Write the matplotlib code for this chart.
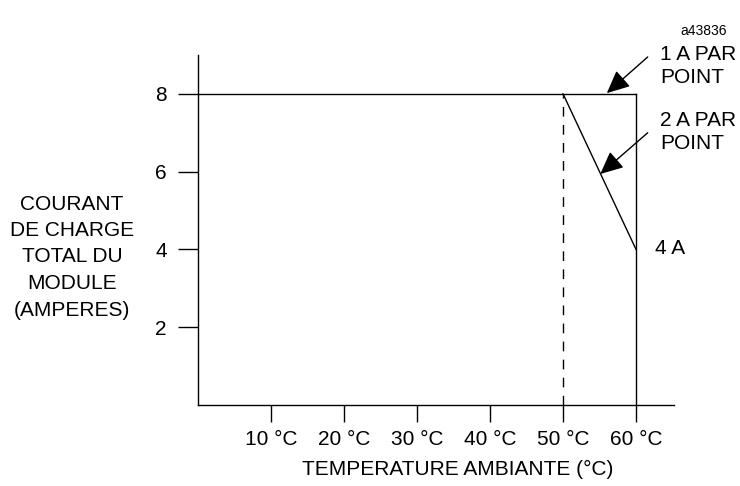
import matplotlib
matplotlib.use("Agg")
import matplotlib.pyplot as plt

plt.rcParams['font.family'] = ['Liberation Sans', 'DejaVu Sans']

# Data
temp_ticks = [10, 20, 30, 40, 50, 60]
temp_labels = ["10 °C", "20 °C", "30 °C", "40 °C", "50 °C", "60 °C"]
current_ticks = [2, 4, 6, 8]
one_amp_x = [0, 60]
one_amp_y = [8, 8]
two_amp_x = [50, 60]
two_amp_y = [8, 4]
limit_x = [60, 60]
limit_y = [0, 8]
threshold_x = [50, 50]
threshold_y = [0, 8]

W, H = 740, 486
FS = 15
fig = plt.figure(figsize=(W / 100, H / 100), dpi=100)
ax = fig.add_axes([198 / W, (H - 405) / H, (674 - 198) / W, 350 / H])
ax.set_xlim(0, 65.2)
ax.set_ylim(0, 9)

lw = 1.0
ax.plot(one_amp_x, one_amp_y, color='black', lw=lw)
ax.plot(two_amp_x, two_amp_y, color='black', lw=lw)
ax.plot(limit_x, limit_y, color='black', lw=lw)
ax.plot(threshold_x, threshold_y, color='black', lw=lw, dashes=(7, 6))

for s in ['top', 'right']:
    ax.spines[s].set_visible(False)
for s in ['left', 'bottom']:
    ax.spines[s].set_linewidth(lw)

ax.set_yticks(current_ticks)
ax.set_yticklabels([str(v) for v in current_ticks])
ax.set_xticks(temp_ticks)
ax.set_xticklabels(temp_labels)
ax.tick_params(axis='y', direction='out', length=14.4, width=lw, pad=8, labelsize=FS)
ax.tick_params(axis='x', direction='out', length=12.2, width=lw, pad=6, labelsize=FS)

ax.set_xlabel("TEMPERATURE AMBIANTE (°C)", fontsize=FS)
ax.xaxis.set_label_coords((458 - 198) / 476, (405 - 460) / 350)
fig.text(72 / W, 1 - 257 / H, "COURANT\nDE CHARGE\nTOTAL DU\nMODULE\n(AMPERES)",
         ha='center', va='center', fontsize=FS, linespacing=1.5)

# Annotations
arrow1_tip = (56.0, 8.02)
arrow1_tail = (61.6, 8.95)
arrow2_tip = (55.1, 5.94)
arrow2_tail = (61.6, 7.0)
astyle = '-|>,head_length=1.4,head_width=0.65'
for tip, tail in [(arrow1_tip, arrow1_tail), (arrow2_tip, arrow2_tail)]:
    ax.annotate("", xy=tip, xytext=tail, annotation_clip=False,
                arrowprops=dict(arrowstyle=astyle, color='black', lw=1,
                                shrinkA=0, shrinkB=0, mutation_scale=10))
fig.text(660 / W, 1 - 66 / H, "1 A PAR\nPOINT", ha='left', va='center', fontsize=FS, linespacing=1.3)
fig.text(660 / W, 1 - 132 / H, "2 A PAR\nPOINT", ha='left', va='center', fontsize=FS, linespacing=1.3)
fig.text(655 / W, 1 - 248 / H, "4 A", ha='left', va='center', fontsize=FS)
fig.text(727 / W, 1 - 31 / H, "a43836", ha='right', va='center', fontsize=10)

fig.savefig("out.png", dpi=100)
